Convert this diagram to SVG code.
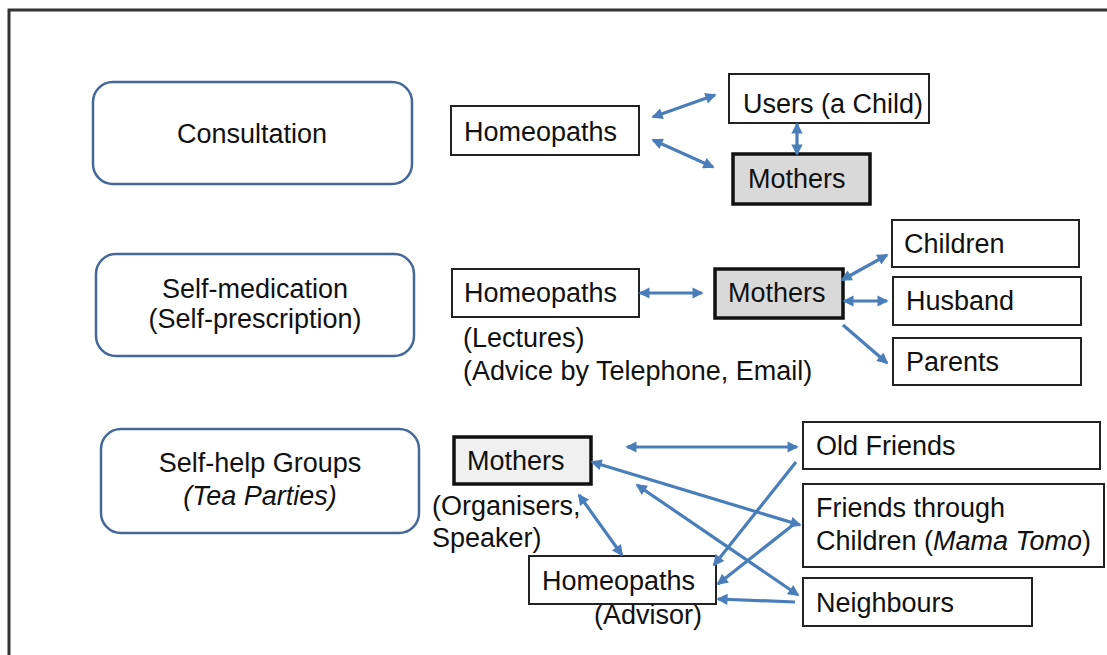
<svg xmlns="http://www.w3.org/2000/svg" width="1107" height="655" viewBox="0 0 1107 655">
<style>
  text { font-family: "Liberation Sans", Arial, sans-serif; font-size: 27px; fill: #111; }
  .mid { text-anchor: middle; }
  .cat { fill: #fff; stroke: #44689a; stroke-width: 2.5; }
  .box { fill: #fff; stroke: #222; stroke-width: 2; }
  .mom { fill: #d9d9d9; stroke: #111; stroke-width: 3.5; }
  .mom2 { fill: #f0f0f0; stroke: #111; stroke-width: 3.5; }
  .con line { stroke: #4a7ebb; stroke-width: 3.2; }
  .frame { fill: none; stroke: #333; stroke-width: 3; }
</style>
<defs>
  <marker id="ah" viewBox="0 0 10 10" refX="8.5" refY="5" markerWidth="4.3" markerHeight="3.5" markerUnits="strokeWidth" orient="auto-start-reverse">
    <path d="M0,0 L10,5 L0,10 z" fill="#4a7ebb"/>
  </marker>
</defs>
<rect width="1107" height="655" fill="#fff"/>
<path class="frame" d="M9,655 V10 H1107"/>

<g id="consultation"><rect class="cat" x="93" y="82" width="319" height="102" rx="20"/><text class="mid" x="252" y="143">Consultation</text></g>
<g id="self-medication"><rect class="cat" x="96" y="254" width="318" height="102" rx="20"/><text class="mid" x="255" y="298">Self-medication</text><text class="mid" x="255" y="328">(Self-prescription)</text></g>
<g id="self-help"><rect class="cat" x="101" y="429" width="318" height="104" rx="20"/><text class="mid" x="260" y="472">Self-help Groups</text><text class="mid" x="260" y="505" font-style="italic">(Tea Parties)</text></g>

<g id="homeopaths1"><rect class="box" x="451" y="106" width="188" height="49"/><text x="464" y="141">Homeopaths</text></g>
<g id="users1"><rect class="box" x="729" y="74" width="200" height="49"/><text x="743" y="113">Users (a Child)</text></g>
<g id="mothers1"><rect class="mom" x="733" y="154" width="137" height="50"/><text x="748" y="188">Mothers</text></g>

<g id="homeopaths2"><rect class="box" x="452" y="269" width="187" height="48"/><text x="464" y="302">Homeopaths</text><text x="463" y="347">(Lectures)</text><text x="463" y="380">(Advice by Telephone, Email)</text></g>
<g id="mothers2"><rect class="mom" x="715" y="269" width="128" height="49"/><text x="728" y="302">Mothers</text></g>
<g id="children2"><rect class="box" x="892" y="220" width="187" height="47"/><text x="904" y="253">Children</text></g>
<g id="husband2"><rect class="box" x="893" y="277" width="188" height="48"/><text x="906" y="310">Husband</text></g>
<g id="parents2"><rect class="box" x="893" y="338" width="188" height="47"/><text x="906" y="371">Parents</text></g>

<g id="mothers3"><rect class="mom2" x="454" y="437" width="137" height="47"/><text x="467" y="470">Mothers</text><text x="432" y="515">(Organisers,</text><text x="432" y="547">Speaker)</text></g>
<g id="homeopaths3"><rect class="box" x="529" y="556" width="187" height="48"/><text x="542" y="590">Homeopaths</text><text x="594" y="624">(Advisor)</text></g>
<g id="oldfriends3"><rect class="box" x="803" y="422" width="297" height="47"/><text x="816" y="455">Old Friends</text></g>
<g id="friendschildren3"><rect class="box" x="803" y="484" width="301" height="83"/><text x="816" y="517">Friends through</text><text x="816" y="550">Children (<tspan font-style="italic">Mama Tomo</tspan>)</text></g>
<g id="neighbours3"><rect class="box" x="803" y="578" width="229" height="48"/><text x="816" y="612">Neighbours</text></g>

<g id="connectors" class="con">
  <line x1="653" y1="117" x2="715" y2="95" marker-start="url(#ah)" marker-end="url(#ah)"/>
  <line x1="653" y1="140" x2="713" y2="167" marker-start="url(#ah)" marker-end="url(#ah)"/>
  <line x1="797" y1="124" x2="797" y2="154" marker-start="url(#ah)" marker-end="url(#ah)"/>

  <line x1="640" y1="293" x2="702" y2="293" marker-start="url(#ah)" marker-end="url(#ah)"/>
  <line x1="842" y1="280" x2="887" y2="255" marker-start="url(#ah)" marker-end="url(#ah)"/>
  <line x1="844" y1="301" x2="887" y2="301" marker-start="url(#ah)" marker-end="url(#ah)"/>
  <line x1="843" y1="325" x2="887" y2="363" marker-end="url(#ah)"/>

  <line x1="627" y1="447" x2="797" y2="447" marker-start="url(#ah)" marker-end="url(#ah)"/>
  <line x1="579" y1="495" x2="622" y2="555" marker-start="url(#ah)" marker-end="url(#ah)"/>
  <line x1="796" y1="462" x2="714" y2="565" marker-end="url(#ah)"/>
  <line x1="592" y1="462" x2="800" y2="525" marker-start="url(#ah)" marker-end="url(#ah)"/>
  <line x1="793" y1="525" x2="718" y2="584" marker-end="url(#ah)"/>
  <line x1="637" y1="485" x2="798" y2="595" marker-start="url(#ah)" marker-end="url(#ah)"/>
  <line x1="795" y1="602" x2="718" y2="599" marker-end="url(#ah)"/>
</g>
</svg>
